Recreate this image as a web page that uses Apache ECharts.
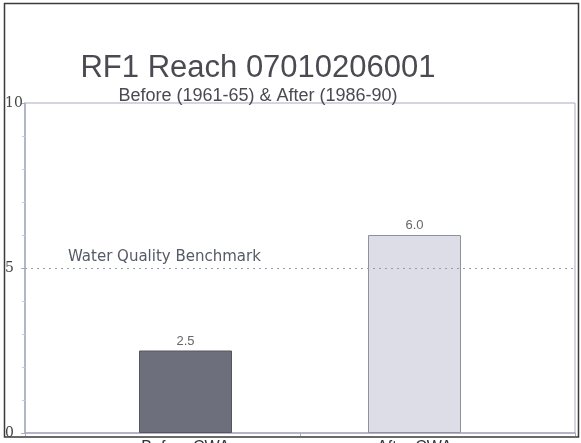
<!DOCTYPE html>
<html>
<head>
<meta charset="utf-8">
<script src="https://cdn.jsdelivr.net/npm/echarts@6/dist/echarts.min.js"></script>
<style>html,body{margin:0;padding:0;background:#fff}#c{width:581px;height:443px}</style>
</head>
<body>
<div id="c"></div>
<script>
var titleText = 'RF1 Reach 07010206001';
var subtitleText = 'Before (1961-65) & After (1986-90)';
var categories = ['Before CWA', 'After CWA'];
var values = [2.5, 6.0];
var benchmark = 5;
var benchmarkLabel = 'Water Quality Benchmark';
var yTicks = [0, 5, 10];

var chart = echarts.init(document.getElementById('c'), null, {renderer: 'canvas'});
var axisCol = '#a9acbf';
chart.setOption({
  animation: false,
  title: [
    {text: titleText, left: 253, top: 48, textAlign: 'center',
     textStyle: {fontFamily: 'Liberation Sans, Arial', fontSize: 31, fontWeight: 'normal', color: '#4a4a52'}},
    {text: subtitleText, left: 253, top: 82, textAlign: 'center',
     textStyle: {fontFamily: 'Liberation Sans, Arial', fontSize: 18, fontWeight: 'normal', color: '#4a4a52'}}
  ],
  grid: [
    {left: 25, right: 6, top: 103, bottom: 10, show: true, borderColor: axisCol, borderWidth: 1,
     containLabel: false, outerBoundsMode: 'none'},
    {left: 71, right: 52, top: 103, bottom: 10, containLabel: false, outerBoundsMode: 'none'}
  ],
  xAxis: [
    {type: 'value', gridIndex: 0, min: 0, max: 2, interval: 1,
     axisLine: {show: true, lineStyle: {color: axisCol, width: 1.5}},
     axisTick: {show: true, length: 3, lineStyle: {color: axisCol}},
     axisLabel: {show: false}, splitLine: {show: false}},
    {type: 'category', gridIndex: 1, data: categories,
     axisLine: {show: false}, axisTick: {show: false},
     axisLabel: {margin: 7, fontFamily: 'Liberation Sans, Arial', fontSize: 16, color: '#333'}}
  ],
  yAxis: [
    {type: 'value', gridIndex: 0, min: 0, max: 10, interval: 5,
     axisLine: {show: true, lineStyle: {color: axisCol, width: 1.5}},
     axisTick: {show: true, length: 4, lineStyle: {color: axisCol}},
     minorTick: {show: true, splitNumber: 5, length: 3, lineStyle: {color: '#c8cad6'}},
     axisLabel: {align: 'left', margin: 20, fontFamily: 'DejaVu Serif, serif', fontSize: 14, color: '#444',
       formatter: function (v) { return yTicks.indexOf(v) >= 0 ? String(v) : ''; }},
     splitLine: {show: false}},
    {type: 'value', gridIndex: 1, min: 0, max: 10, interval: 5, show: false}
  ],
  series: [
    {type: 'line', xAxisIndex: 0, yAxisIndex: 0, data: [], silent: true,
     markLine: {
       symbol: 'none', silent: true,
       lineStyle: {type: [2, 4], color: '#9a9cab', width: 1.2},
       label: {show: true, position: 'insideStartTop', distance: [43, 3], formatter: benchmarkLabel,
         fontFamily: 'DejaVu Sans', fontSize: 15, color: '#555a66'},
       data: [{yAxis: benchmark}]
     }},
    {type: 'bar', xAxisIndex: 1, yAxisIndex: 1, barWidth: 93,
     data: values.map(function (v, i) {
       return {value: v, itemStyle: i === 0
         ? {color: '#6d707c', borderColor: '#55575f', borderWidth: 1}
         : {color: '#dcdde6', borderColor: '#8f91a0', borderWidth: 1}};
     }),
     label: {show: true, position: 'top', distance: 3, fontFamily: 'Liberation Sans, Arial', fontSize: 13, color: '#666',
       formatter: function (p) { return p.value.toFixed(1); }}}
  ],
  graphic: [
    {type: 'rect', silent: true, z: 100,
     shape: {x: 4.5, y: 3.5, width: 574, height: 433.5},
     style: {fill: 'none', stroke: '#3a3a3a', lineWidth: 1.5}}
  ]
});
</script>
</body>
</html>
